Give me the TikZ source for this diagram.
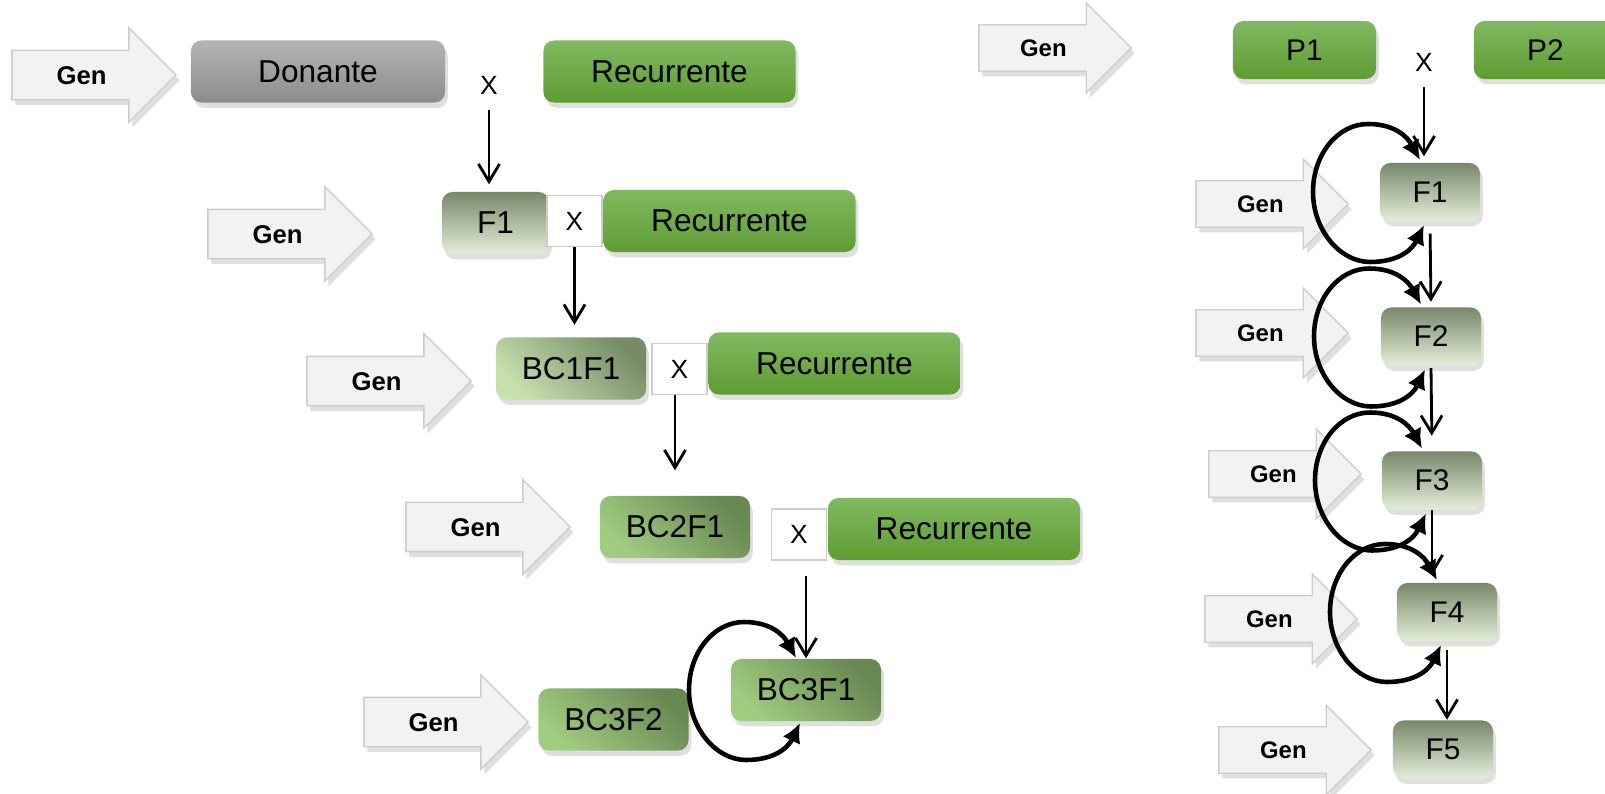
\documentclass[tikz,border=0pt]{standalone}
\usepackage{fontspec}
\setmainfont{Liberation Sans}
\usetikzlibrary{shapes.arrows,shadows,arrows.meta,positioning,calc}

\definecolor{genfill}{RGB}{242,242,242}
\definecolor{genline}{RGB}{205,205,205}
\definecolor{donortop}{RGB}{180,180,180}
\definecolor{donorbot}{RGB}{140,140,140}
\definecolor{rectop}{RGB}{128,185,96}
\definecolor{recbot}{RGB}{94,156,50}
\definecolor{ftop}{RGB}{120,136,106}
\definecolor{fbot}{RGB}{228,238,216}
\definecolor{bcdark}{RGB}{104,136,82}
\definecolor{bclight}{RGB}{160,204,128}
\definecolor{bconedark}{RGB}{118,140,102}
\definecolor{bconelight}{RGB}{198,224,174}

\begin{document}
\begin{tikzpicture}[x=0.01cm,y=-0.01cm,
  gen/.style={single arrow,draw=genline,fill=genfill,anchor=tip,inner xsep=0pt,inner ysep=4.1pt,
    text height=5.4pt,text depth=0pt,
    minimum height=1.64cm,minimum width=0.93cm,single arrow head extend=0.225cm,
    font=\fontsize{7.3}{8}\selectfont\bfseries,
    drop shadow={shadow xshift=1pt,shadow yshift=-1.5pt,opacity=0.25}},
  genr/.style={gen,minimum height=1.52cm,minimum width=0.88cm,inner ysep=3.9pt,text height=5pt,
    single arrow head extend=0.215cm,font=\fontsize{6.8}{8}\selectfont\bfseries},
  box/.style={rectangle,rounded corners=3pt,inner sep=0pt,minimum height=0.62cm,
    font=\fontsize{9}{10}\selectfont,
    drop shadow={shadow xshift=0.8pt,shadow yshift=-1.5pt,opacity=0.25}},
  donor/.style={box,top color=donortop,bottom color=donorbot,minimum width=2.54cm},
  recur/.style={box,top color=rectop,bottom color=recbot,minimum width=2.52cm},
  parent/.style={recur,minimum width=1.43cm,minimum height=0.58cm,font=\fontsize{8.5}{10}\selectfont},
  fgen/.style={box,top color=ftop,bottom color=fbot,minimum width=1.07cm},
  fgenr/.style={fgen,minimum width=1cm,minimum height=0.58cm,font=\fontsize{8.5}{10}\selectfont},
  bcgen/.style={box,top color=bcdark,bottom color=bclight,shading angle=-45,minimum width=1.5cm},
  cross/.style={rectangle,draw=black!20,fill=white,minimum width=0.55cm,minimum height=0.51cm,
    inner sep=0pt,font=\fontsize{7.5}{9}\selectfont},
  flow/.style={line width=0.8pt,-{Straight Barb[length=5pt,width=6pt]}},
  selfloop/.style={line width=1.3pt,{Latex[length=5.5pt,width=5.5pt]}-{Latex[length=5.5pt,width=5.5pt]}}]

\useasboundingbox (0,0) rectangle (1605,794);

% backcross
\node[gen] (g1) at (177,75) {Gen};
\node[donor] (don) at (318,71.5) {Donante};
\node[font=\fontsize{7.5}{9}\selectfont] (x1) at (489,85) {X};
\node[recur] (rec1) at (669.5,71.5) {Recurrente};

\node[gen] (g2) at (373,234) {Gen};
\node[fgen] (f1l) at (495.5,223) {F1};
\node[recur] (rec2) at (729.5,221) {Recurrente};
\node[cross] (x2) [left=0pt of rec2] {X};

\node[gen] (g3) at (472,381) {Gen};
\node[bcgen,top color=bconedark,bottom color=bconelight,shading angle=-45] (bc1f1) at (571,368.5) {BC1F1};
\node[recur] (rec3) at (834.5,363.5) {Recurrente};
\node[cross,anchor=south east] (x3) at (rec3.south west) {X};

\node[gen] (g4) at (571,527) {Gen};
\node[bcgen] (bc2f1) at (675,527) {BC2F1};
\node[recur] (rec4) at (954,529) {Recurrente};
\node[cross,anchor=south east] (x4) at (rec4.south west) {X};

\node[gen] (g5) at (529,722) {Gen};
\node[bcgen] (bc3f2) at (613.5,719.5) {BC3F2};
\node[bcgen] (bc3f1) at (806,690) {BC3F1};

% selfing
\node[genr] (g6) at (1132,48) {Gen};
\node[parent] (p1) at (1304.5,50) {P1};
\node[font=\fontsize{7.5}{9}\selectfont] (xr) at (1424,62) {X};
\node[parent] (p2) at (1545.5,50) {P2};

\node[genr] (g7) at (1349,204) {Gen};
\node[fgenr] (f1r) at (1430,192) {F1};
\node[genr] (g8) at (1349,333) {Gen};
\node[fgenr] (f2r) at (1431,336.5) {F2};
\node[genr] (g9) at (1362,474) {Gen};
\node[fgenr] (f3r) at (1432,480.5) {F3};
\node[genr] (g10) at (1358,619) {Gen};
\node[fgenr] (f4r) at (1447,612) {F4};
\node[genr] (g11) at (1372,750) {Gen};
\node[fgenr] (f5r) at (1443,749.5) {F5};

\draw[flow,shorten <=0.04cm,shorten >=0.07cm] (x1.south) -- (x1.south |- f1l.north);
\draw[flow,shorten >=0.12cm] (x2.south) -- (x2.south |- bc1f1.north);
\draw[flow,shorten >=0.25cm] (bc2f1.north |- x3.south) -- (bc2f1.north);
\draw[flow,shorten <=0.15cm] (bc3f1.north |- x4.south) -- (bc3f1.north);

\draw[flow,shorten <=0.04cm,shorten >=0.06cm] (xr.south) -- (xr.south |- f1r.north);
\draw[flow,shorten <=0.12cm,shorten >=0.05cm] (f1r.south) -- (f2r.north);
\draw[flow,shorten <=0.02cm,shorten >=0.15cm] (f2r.south) -- (f3r.north);
\draw[flow,shorten >=0.07cm] (f3r.south) -- (f3r.south |- f4r.north);
\draw[flow,shorten <=0.08cm] (f4r.south) -- (f4r.south |- f5r.north);

\foreach \n in {bc3f1,f1r,f2r,f3r,f4r}
  \draw[selfloop] ($(\n)+(-6,33)$) .. controls +(-12,25) and +(28,0) .. ($(\n)+(-60,70)$)
    .. controls +(-30,0) and +(0,38) .. ($(\n)+(-117,0)$)
    .. controls +(0,-38) and +(-30,0) .. ($(\n)+(-62,-68)$)
    .. controls +(28,0) and +(-12,-22) .. ($(\n)+(-10,-32)$);
\end{tikzpicture}
\end{document}
